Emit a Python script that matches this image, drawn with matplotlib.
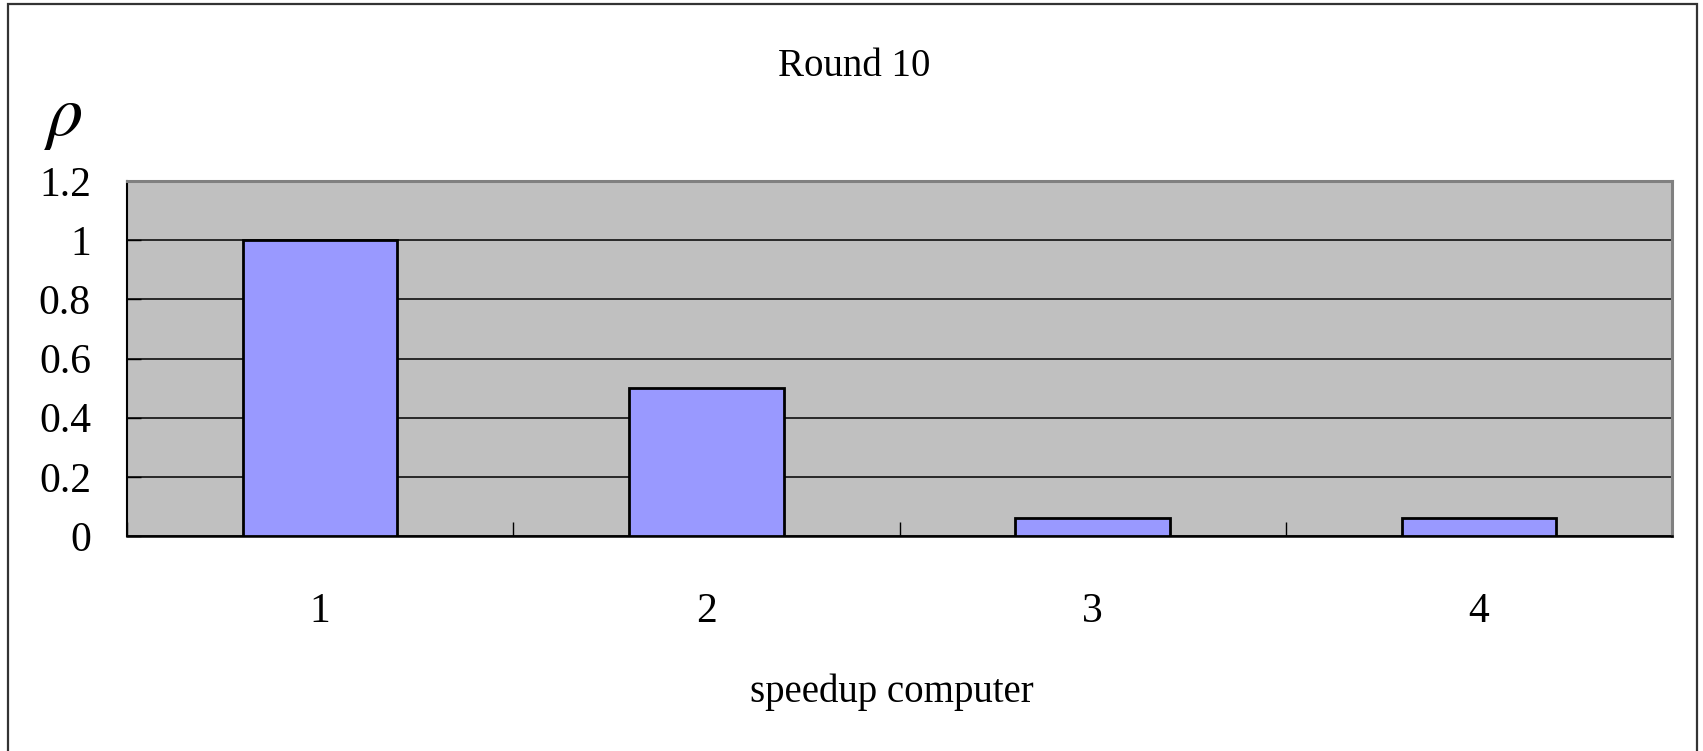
import numpy as np
import matplotlib.pyplot as plt
from matplotlib.patches import Rectangle

computers = [1, 2, 3, 4]
rho = [1.0, 0.5, 0.0625, 0.0625]
y_ticks = [0, 0.2, 0.4, 0.6, 0.8, 1, 1.2]
y_tick_labels = ["0", "0.2", "0.4", "0.6", "0.8", "1", "1.2"]

plt.rcParams['font.family'] = ['Liberation Serif', 'DejaVu Serif']
plt.rcParams['mathtext.fontset'] = 'stix'

fig = plt.figure(figsize=(17.03, 7.51), dpi=100)
ax = fig.add_axes([127 / 1703, 1 - 536 / 751, 1545 / 1703, 355 / 751])

ax.set_facecolor('#c0c0c0')
ax.bar(computers, rho, width=0.4, color='#9999ff', edgecolor='black',
       linewidth=2.0, zorder=3)

ax.set_xlim(0.5, 4.5)
ax.set_ylim(0, 1.2)

# y axis: ticks inward, black gridlines
ax.set_yticks(y_ticks)
ax.set_yticklabels(y_tick_labels)
ax.yaxis.grid(True, color='black', linewidth=1.1, zorder=1)
ax.tick_params(axis='y', direction='in', length=10, width=1, pad=26,
               labelsize=30)

# x axis: labels at centres, tick marks between categories
ax.set_xticks(computers)
ax.set_xticklabels([str(c) for c in computers])
ax.set_xticks(np.arange(0.5, 5, 1), minor=True)
ax.tick_params(axis='x', which='major', length=0, pad=41, labelsize=30)
ax.tick_params(axis='x', which='minor', direction='in', length=10, width=1)

ax.spines['left'].set_color('black')
ax.spines['bottom'].set_color('black')
ax.spines['left'].set_linewidth(1.5)
ax.spines['bottom'].set_linewidth(1.8)
ax.spines['top'].set_color('#808080')
ax.spines['right'].set_color('#808080')
ax.spines['top'].set_linewidth(2.2)
ax.spines['right'].set_linewidth(2.2)
ax.set_axisbelow(True)

fig.text(854 / 1703, 1 - 66 / 751, "Round 10", ha='center', va='center',
         fontsize=28)
fig.text(63 / 1703, 1 - 120 / 751, r"$\rho$", ha='center', va='center',
         fontsize=52)
fig.text(892 / 1703, 1 - 692 / 751, "speedup computer", ha='center',
         va='center', fontsize=28)

# outer chart border
fig.patches.append(Rectangle((8 / 1703, -0.05), (1697 - 8) / 1703,
                             1.05 - 4 / 751, transform=fig.transFigure,
                             fill=False, edgecolor='#333333', linewidth=1.6))

fig.savefig('out.png', dpi=100)
